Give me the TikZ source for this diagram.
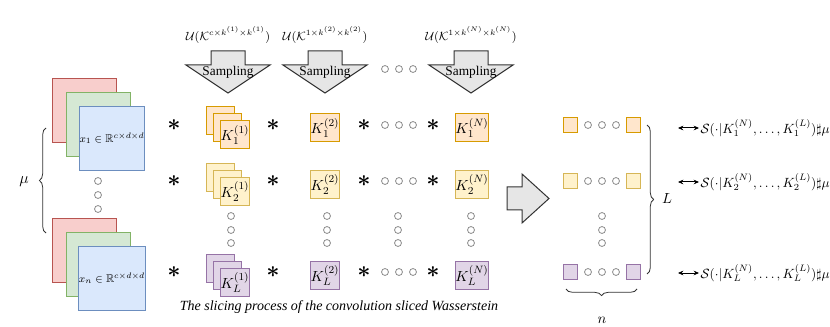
\documentclass[tikz,border=0pt]{standalone}
\usepackage{amsmath,amssymb,bm}
\usepackage{fontspec}
\setmainfont{Liberation Serif}
\usetikzlibrary{decorations.pathreplacing,arrows.meta}
\definecolor{redfill}{HTML}{F8CECC}
\definecolor{redline}{HTML}{B85450}
\definecolor{greenfill}{HTML}{D5E8D4}
\definecolor{greenline}{HTML}{82B366}
\definecolor{bluefill}{HTML}{DAE8FC}
\definecolor{blueline}{HTML}{6C8EBF}
\definecolor{orangefill}{HTML}{FFE6CC}
\definecolor{orangeline}{HTML}{D79B00}
\definecolor{yellowfill}{HTML}{FFF2CC}
\definecolor{yellowline}{HTML}{D6B656}
\definecolor{purplefill}{HTML}{E1D5E7}
\definecolor{purpleline}{HTML}{9673A6}
\definecolor{arrowfill}{HTML}{E6E6E6}
\definecolor{ringline}{HTML}{8C8C8C}

\tikzset{
  imgsq/.style={draw=#1line,fill=#1fill,line width=0.75pt,minimum size=48pt,inner sep=0pt},
  kersq/.style={draw=#1line,fill=#1fill,line width=0.75pt,minimum size=21pt,inner sep=0pt},
  tinysq/.style={draw=#1line,fill=#1fill,line width=0.75pt,minimum size=11pt,inner sep=0pt},
  ring/.style={circle,draw=ringline,fill=white,line width=0.6pt,minimum size=5.2pt,inner sep=0pt},
  conv/.style={inner sep=0pt,font=\LARGE},
  bigarrow/.style={draw=black!80,fill=arrowfill,line width=0.75pt},
  bracedeco/.style={draw=black!80,line width=0.6pt,decorate,decoration={brace,amplitude=5pt}},
  pairarrow/.style={{Stealth[length=4pt,width=3.5pt]}-{Stealth[length=4pt,width=3.5pt]},line width=0.75pt},
}

\begin{document}
\begin{tikzpicture}[x=0.75pt,y=-0.75pt,font=\fontsize{11}{13}\selectfont]
\useasboundingbox (0,0) rectangle (830,327);

% input images
\foreach \i/\y in {1/110.5,n/250.5}{
  \node[imgsq=red] (red\i) at (84,\y) {};
  \node[imgsq=green] (green\i) at (98,\y+14) {};
  \node[imgsq=blue,font=\fontsize{8.5}{10}\selectfont] (x\i) at (112,\y+28) {$x_\i\in\mathbb{R}^{c\times d\times d}$};
}
\foreach \k/\y in {1/181,2/195,3/209}
  \node[ring] (xdot\k) at (98,\y) {};
\coordinate (mubot) at (46,233);
\coordinate (mutop) at (46,128);
\draw[bracedeco] (mubot) -- (mutop);
\node[font=\fontsize{12.5}{14}\selectfont] (mu) at (24,182) {$\mu$};

% sampling arrows
\foreach \cx/\nm/\lab in {228/1/{c\times k^{(1)}\times k^{(1)}},325/2/{1\times k^{(2)}\times k^{(2)}},471/N/{1\times k^{(N)}\times k^{(N)}}}{
  \node[font=\fontsize{9}{10}\selectfont] (unif\nm) at (\cx,35) {$\mathcal{U}(\mathcal{K}^{\lab})$};
  \draw[bigarrow] (\cx-17,51) -- (\cx+17,51) -- (\cx+17,65) -- (\cx+42,65)
    -- (\cx,93) -- (\cx-42,65) -- (\cx-17,65) -- cycle;
  \node[font=\fontsize{10}{11}\selectfont] (samp\nm) at (\cx,72) {Sampling};
}
\foreach \k/\x in {1/385,2/399,3/413}
  \node[ring] (topdot\k) at (\x,69) {};

% kernels
\foreach \r/\y/\c/\sy in {1/128/orange/125,2/184.5/yellow/181,L/275.5/purple/272}{
  \node[conv] (convA\r) at (174,\sy) {$\bm{\ast}$};
  \node[kersq=\c] (kback\r) at (220,\y-7) {};
  \node[kersq=\c] (kmid\r) at (227.5,\y) {};
  \node[kersq=\c] (kone\r) at (235,\y+7) {$K_\r^{(1)}$};
  \node[conv] (convB\r) at (273,\sy) {$\bm{\ast}$};
  \node[kersq=\c] (ktwo\r) at (325,\y) {$K_\r^{(2)}$};
  \node[conv] (convC\r) at (364,\sy) {$\bm{\ast}$};
  \foreach \k/\x in {1/385,2/399,3/413}
    \node[ring] (kdot\r\k) at (\x,\sy) {};
  \node[conv] (convD\r) at (433,\sy) {$\bm{\ast}$};
  \node[kersq=\c] (kN\r) at (472,\y) {$K_\r^{(N)}$};
  % projected rows
  \node[tinysq=\c] (pa\r) at (570.5,\sy) {};
  \foreach \k/\x in {1/588,2/602,3/616}
    \node[ring] (pdot\r\k) at (\x,\sy) {};
  \node[tinysq=\c] (pb\r) at (633.5,\sy) {};
}
\foreach \cx/\nm in {231/a,327/b,398/c,471/d,602/p}
  \foreach \k/\y in {1/216,2/230,3/243}
    \node[ring] (vdot\nm\k) at (\cx,\y) {};

\node[font=\fontsize{10.5}{12}\selectfont\itshape] (caption) at (339,307) {The slicing process of the convolution sliced Wasserstein};

% big arrow
\draw[bigarrow] (507,187) -- (522,187) -- (522,174) -- (549,198.5)
  -- (522,223) -- (522,210) -- (507,210) -- cycle;

% braces
\coordinate (ntop) at (637,289);
\coordinate (nbot) at (566,289);
\draw[bracedeco] (ntop) -- (nbot);
\node (nlab) at (602,320) {$n$};
\coordinate (Ltop) at (647,125);
\coordinate (Lbot) at (647,274);
\draw[bracedeco] (Ltop) -- (Lbot);
\node (Llab) at (667,199) {$L$};

% sliced measures
\foreach \r/\y in {1/128,2/182,L/273}{
  \node[anchor=west,inner sep=1pt,font=\fontsize{10}{12}\selectfont] (slice\r) at (699,\y) {$\mathcal{S}(\cdot|K_\r^{(N)},\ldots,K_\r^{(L)})\sharp\mu$};
  \coordinate (pend\r) at (678,\y);
  \draw[pairarrow] (pend\r) -- (slice\r.west);
}
\end{tikzpicture}
\end{document}
